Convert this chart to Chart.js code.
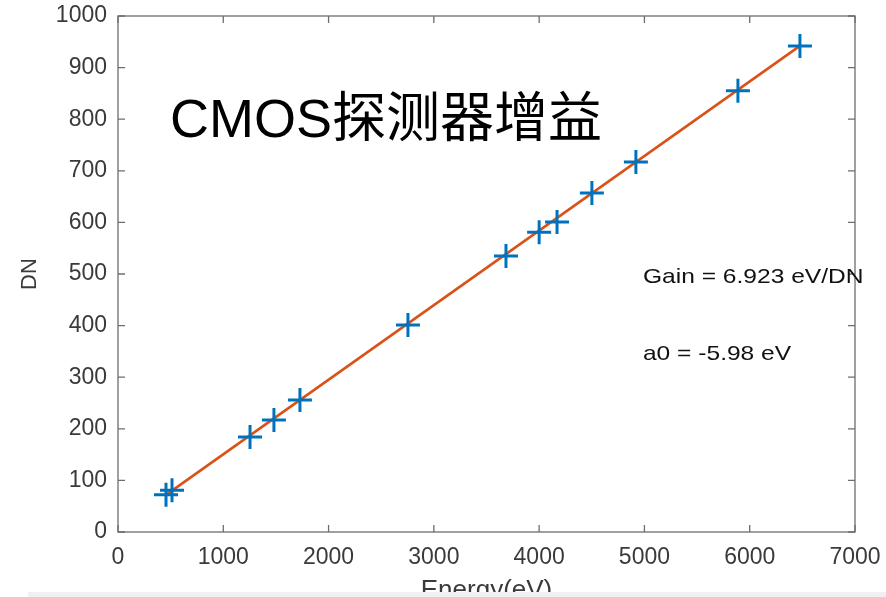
<!DOCTYPE html>
<html><head><meta charset="utf-8">
<script src="https://cdn.jsdelivr.net/npm/chart.js@4.4.1/dist/chart.umd.min.js"></script>
<style>html,body{margin:0;padding:0;background:#fff;}#wrap{width:886px;height:597px;position:relative;}</style>
</head><body><div id="wrap"><canvas id="c" width="886" height="597"></canvas></div>
<script>
const energy = [456, 513, 1254, 1481, 1728, 2754, 3685, 4000, 4170, 4501, 4919, 5888, 6477];
const dn     = [72, 81, 184, 217, 256, 401, 535, 581, 601, 657, 717, 855, 942];
const fitX = [456, 6477];
const fitY = [72, 942];
const xTicks = [0,1000,2000,3000,4000,5000,6000,7000];
const yTicks = [0,100,200,300,400,500,600,700,800,900,1000];
const titleText = 'CMOS探测器增益';
const gainText = 'Gain = 6.923 eV/DN';
const a0Text = 'a0 = -5.98 eV';

const FONT = '"Liberation Sans", Arial, Helvetica, sans-serif';
const axisColor = '#6e6e6e';
const tickTextColor = '#3a3a3a';

const boxPlugin = {
  id: 'box',
  afterDraw(chart) {
    const ctx = chart.ctx, a = chart.chartArea;
    const xs = chart.scales.x, ys = chart.scales.y;
    ctx.save();
    ctx.strokeStyle = axisColor;
    ctx.lineWidth = 1.3;
    ctx.strokeRect(a.left, a.top, a.right - a.left, a.bottom - a.top);
    const tl = 7;
    ctx.beginPath();
    xTicks.forEach(v => {
      const px = xs.getPixelForValue(v);
      ctx.moveTo(px, a.bottom); ctx.lineTo(px, a.bottom - tl);
      ctx.moveTo(px, a.top); ctx.lineTo(px, a.top + tl);
    });
    yTicks.forEach(v => {
      const py = ys.getPixelForValue(v);
      ctx.moveTo(a.left, py); ctx.lineTo(a.left + tl, py);
      ctx.moveTo(a.right, py); ctx.lineTo(a.right - tl, py);
    });
    ctx.stroke();
    ctx.fillStyle = '#000';
    ctx.textBaseline = 'alphabetic';
    ctx.textAlign = 'left';
    ctx.font = '54px ' + FONT + ', "Noto Sans CJK SC"';
    ctx.fillText(titleText, xs.getPixelForValue(494), ys.getPixelForValue(765));
    ctx.fillStyle = '#111';
    ctx.font = '21px ' + FONT;
    const sx = 1.17;
    const gx = xs.getPixelForValue(4986);
    ctx.save();
    ctx.translate(gx, ys.getPixelForValue(482));
    ctx.scale(sx, 1);
    ctx.fillText(gainText, 0, 0);
    ctx.restore();
    ctx.save();
    ctx.translate(gx, ys.getPixelForValue(334));
    ctx.scale(sx, 1);
    ctx.fillText(a0Text, 0, 0);
    ctx.restore();
    ctx.fillStyle = '#f0f0f0';
    ctx.fillRect(28, 592, 886 - 28, 5);
    ctx.restore();
  }
};

new Chart(document.getElementById('c'), {
  type: 'scatter',
  data: {
    datasets: [
      {
        data: fitX.map((x, i) => ({x, y: fitY[i]})),
        showLine: true,
        borderColor: '#D95319',
        borderWidth: 2.6,
        pointRadius: 0,
        order: 1
      },
      {
        data: energy.map((x, i) => ({x, y: dn[i]})),
        pointStyle: 'cross',
        pointRadius: 12,
        pointBorderWidth: 3,
        borderColor: '#0072BD',
        backgroundColor: '#0072BD',
        showLine: false,
        order: 0
      }
    ]
  },
  options: {
    responsive: false,
    animation: false,
    devicePixelRatio: 1,
    layout: { padding: { top: 16, right: 31, left: 0, bottom: 0 } },
    plugins: { legend: { display: false }, tooltip: { enabled: false } },
    scales: {
      x: {
        type: 'linear', min: 0, max: 7000,
        afterBuildTicks: s => { s.ticks = xTicks.map(v => ({value: v})); },
        afterFit: s => { s.height = 65; s.paddingLeft = 0; s.paddingRight = 0; },
        grid: { display: false, drawTicks: false },
        border: { display: false },
        ticks: { color: tickTextColor, font: { family: FONT, size: 23 }, padding: 12, maxRotation: 0, autoSkip: false, callback: v => String(v) },
        title: { display: true, text: 'Energy(eV)', color: tickTextColor, font: { family: FONT, size: 26 }, padding: { top: 0, bottom: -9 } }
      },
      y: {
        type: 'linear', min: 0, max: 1000,
        afterBuildTicks: s => { s.ticks = yTicks.map(v => ({value: v})); },
        afterFit: s => { s.width = 118; s.paddingTop = 0; s.paddingBottom = 0; },
        grid: { display: false, drawTicks: false },
        border: { display: false },
        ticks: { color: tickTextColor, font: { family: FONT, size: 23 }, padding: 11, autoSkip: false, callback: v => String(v) },
        title: { display: true, text: 'DN', color: tickTextColor, font: { family: FONT, size: 22 }, padding: { top: 17, bottom: 0 } }
      }
    }
  },
  plugins: [boxPlugin]
});
</script>
</body></html>
